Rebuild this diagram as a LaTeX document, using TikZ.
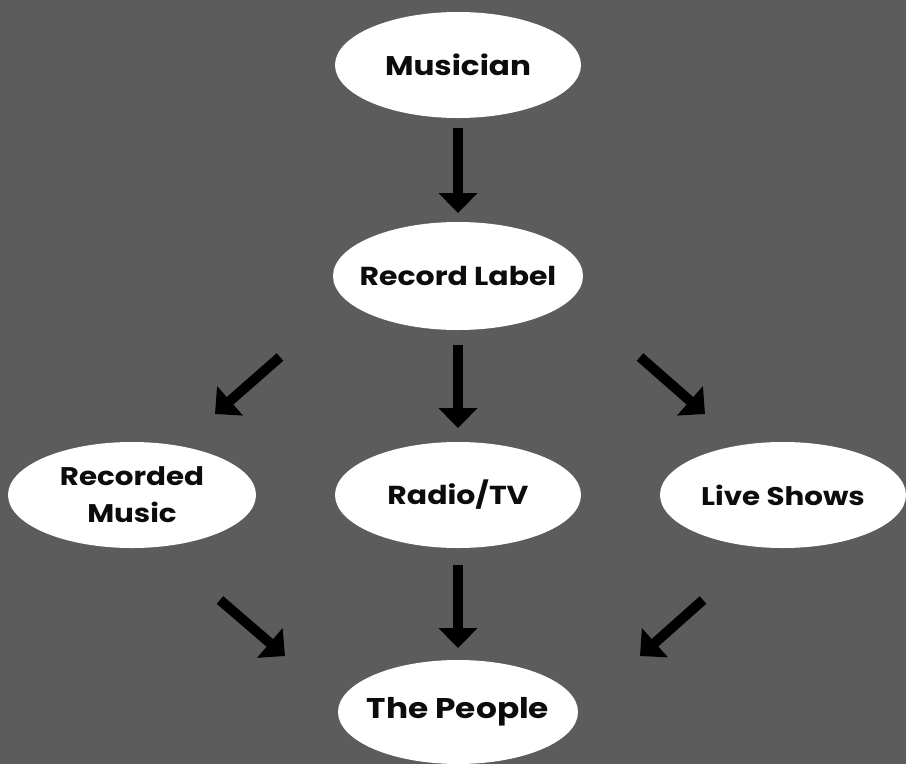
\documentclass[tikz,border=0pt]{standalone}
\usepackage{fontspec}
\setmainfont{Poppins}[FakeStretch=1.15]
\usetikzlibrary{arrows.meta,shapes.geometric}
\definecolor{bg}{RGB}{92,92,92}
\definecolor{ink}{RGB}{12,12,12}
\begin{document}
\begin{tikzpicture}[x=1pt,y=-1pt,
  oval/.style={ellipse,fill=white,draw=none,inner xsep=-30pt,inner ysep=0pt,minimum width=#1,minimum height=106pt,align=center,text=ink,font=\bfseries\fontsize{26}{37}\selectfont},
  oval/.default=246pt,
  arr/.style={line width=10pt,draw=black,-{Triangle[width=38pt,length=20pt]}}]
\fill[bg] (0,0) rectangle (906,764);
\useasboundingbox (0,0) rectangle (906,764);
\node[oval,font=\bfseries\fontsize{27}{30}\selectfont] (mus) at (458,65) {Musician};
\node[oval=250pt,minimum height=108pt] (rec) at (458,276) {Record Label};
\node[oval=248pt,font=\bfseries\fontsize{25.5}{37}\selectfont] (rm) at (132,495) {Recorded\\Music};
\node[oval] (rtv) at (458,495) {Radio/TV};
\node[oval,font=\bfseries\fontsize{25.5}{30}\selectfont] (ls) at (783,495) {Live Shows};
\node[oval=240pt,minimum height=104pt,font=\bfseries\fontsize{28.5}{30}\selectfont] (ppl) at (458,712) {The People};
\coordinate (a1s) at (458,128); \coordinate (a1e) at (458,213);
\coordinate (a2s) at (280,357); \coordinate (a2e) at (215,414);
\coordinate (a3s) at (458,345); \coordinate (a3e) at (458,428);
\coordinate (a4s) at (640,357); \coordinate (a4e) at (705,414);
\coordinate (a5s) at (220,600); \coordinate (a5e) at (285,656);
\coordinate (a6s) at (458,565); \coordinate (a6e) at (458,648);
\coordinate (a7s) at (703,600); \coordinate (a7e) at (640,656);
\draw[arr] (a1s) -- (a1e);
\draw[arr] (a2s) -- (a2e);
\draw[arr] (a3s) -- (a3e);
\draw[arr] (a4s) -- (a4e);
\draw[arr] (a5s) -- (a5e);
\draw[arr] (a6s) -- (a6e);
\draw[arr] (a7s) -- (a7e);
\end{tikzpicture}
\end{document}
